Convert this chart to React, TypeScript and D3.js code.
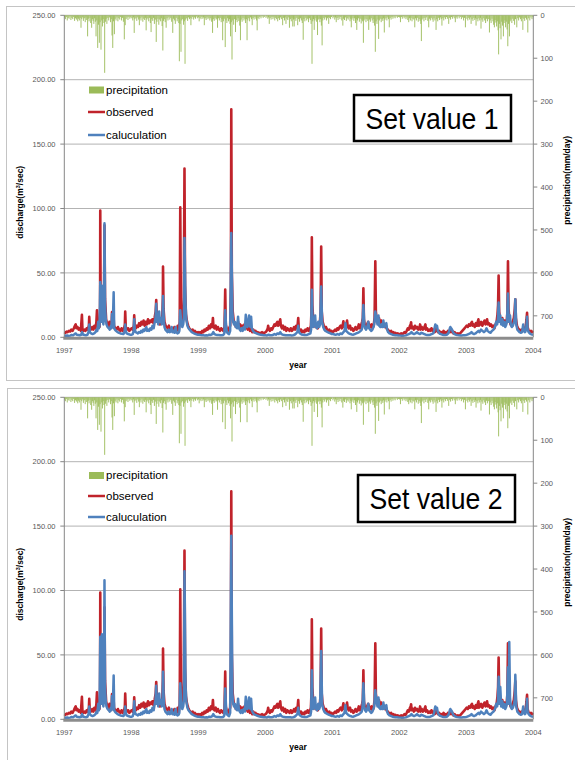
import React from 'react';
import * as d3 from 'd3';

// ---- data ----
const years = [1997, 1998, 1999, 2000, 2001, 2002, 2003];
const yearTicks = [1997, 1998, 1999, 2000, 2001, 2002, 2003, 2004];
const dischargeTicks = [0, 50, 100, 150, 200, 250];
const rainTicks = [0, 100, 200, 300, 400, 500, 600, 700];
const legendLabels = ['precipitation', 'observed', 'caluculation'];
const panelLabels = ['Set value 1', 'Set value 2'];

// observed discharge (m3/sec), [day of year, value]
const obs1997 = [[0,4],[6,3.5],[12,4.5],[18,4],[25,5],[32,4.5],[38,6],[45,5],[52,7],[58,9],[62,10],[66,7],[72,8],[78,6],[84,7],[90,5],[96,17.5],[99,6],[104,5],[110,6],[116,5],[122,7],[128,6],[134,9],[136,16],[139,7],[145,6],[152,8],[158,6],[164,9],[170,7],[175,12],[178,21],[181,9],[186,14],[192,8],[195,20],[196,98.5],[198,25],[203,14],[208,30],[212,18],[217,40],[219,87],[222,30],[228,14],[234,10],[240,8],[246,12],[252,7],[258,9],[260,19.6],[263,8],[268,18],[271,9],[278,7],[285,6],[292,8],[298,6],[305,5],[312,7],[318,5],[325,6],[330,10],[332,20],[335,8],[341,6],[348,7],[354,5],[360,6]];
const obs1998 = [[2,7],[8,6],[14,9],[16,17],[19,8],[25,7],[31,9],[37,8],[43,11],[49,9],[55,12],[61,10],[67,13],[73,9],[79,12],[85,10],[91,14],[97,11],[103,13],[109,12],[115,14],[121,11],[127,15],[133,20],[136,29],[139,17],[144,12],[150,15],[156,10],[162,13],[168,11],[172,30],[173,55],[176,22],[181,12],[187,9],[193,8],[199,7],[205,9],[211,6],[217,5],[223,7],[229,5],[235,8],[241,6],[247,5],[253,9],[259,6],[264,12],[267,101],[270,30],[275,15],[280,12],[286,25],[290,131],[293,40],[298,18],[304,12],[310,9],[316,7],[322,6],[328,5],[334,6],[340,4],[346,5],[352,4],[358,3.5],[364,4]];
const obs1999 = [[4,3],[10,4],[16,3],[22,5],[28,4],[34,6],[40,5],[46,7],[52,6],[58,9],[64,7],[70,10],[76,8],[80,15],[83,8],[89,7],[95,9],[101,6],[107,8],[113,6],[119,5],[125,7],[131,6],[137,5],[143,8],[147,37],[150,10],[156,6],[162,5],[168,7],[174,9],[178,40],[180,177],[183,50],[188,20],[194,12],[200,10],[206,8],[212,9],[217,12],[222,8],[228,10],[234,7],[240,9],[246,8],[252,10],[258,7],[264,9],[270,6],[276,8],[282,5],[288,7],[294,4],[300,6],[306,4],[312,5],[318,3.5],[324,4],[330,3],[336,3.5],[342,3],[348,4],[354,3],[360,3.5]];
const obs2000 = [[2,4],[8,5],[14,7],[16,9],[20,6],[26,5],[32,7],[38,6],[44,8],[50,10],[56,9],[62,11],[66,12],[70,9],[76,11],[82,14],[85,9],[91,7],[97,9],[103,6],[109,8],[115,5],[121,7],[127,6],[133,5],[139,7],[145,5],[151,6],[157,8],[163,6],[169,9],[175,7],[180,15],[183,7],[189,5],[195,6],[201,4],[207,5],[213,4],[219,6],[225,5],[231,7],[237,5],[243,6],[249,9],[252,20],[254,77.7],[257,25],[262,12],[268,10],[274,8],[280,9],[286,7],[292,10],[298,12],[302,20],[305,70.5],[308,20],[313,12],[319,9],[325,7],[331,8],[337,6],[343,5],[349,6],[355,4],[361,5]];
const obs2001 = [[3,4],[9,5],[15,6],[21,5],[27,7],[33,6],[39,8],[45,9],[51,7],[57,10],[60,12.5],[64,8],[70,9],[76,10],[80,13],[84,8],[90,7],[96,9],[102,6],[108,7],[114,5],[120,6],[126,8],[132,6],[138,7],[144,10],[150,7],[156,9],[162,12],[166,15],[169,38],[172,14],[177,9],[183,8],[189,10],[195,12],[201,9],[207,8],[213,10],[219,7],[225,9],[230,15],[234,59],[237,20],[242,14],[248,12],[254,15],[260,11],[266,13],[272,9],[278,11],[284,8],[290,10],[296,7],[302,6],[308,5],[314,4],[320,5],[326,3],[332,4],[338,3],[344,3.5],[350,2.5],[356,3],[362,2.5]];
const obs2002 = [[4,2.5],[10,3],[16,2.5],[22,3],[28,4],[34,3.5],[40,5],[46,7],[52,6],[58,9],[62,10],[64,11.7],[67,7],[73,8],[79,6],[85,9],[91,7],[97,8],[103,6],[109,7],[113,10],[116,6],[122,8],[128,6],[134,7],[142,10],[145,6],[151,7],[157,5],[163,6],[169,5],[175,7],[181,5],[187,6],[193,4],[199,7],[205,5],[211,4],[217,5],[223,3],[229,4],[235,3],[241,5],[247,3],[253,4],[259,3],[265,5],[271,4],[277,6],[283,4],[289,5],[295,3],[301,4],[307,3],[313,2.5],[319,3],[325,2.5],[331,3],[337,4],[343,5],[349,6],[355,7],[361,8]];
const obs2003 = [[2,9],[8,8],[14,10],[20,9],[26,11],[31,12],[34,9],[40,10],[46,8],[52,11],[58,9],[62,12],[66,14],[69,9],[75,10],[81,12],[87,9],[93,11],[99,13],[105,10],[110,12],[113,14],[117,10],[123,11],[129,9],[135,10],[141,8],[147,9],[153,7],[159,10],[165,12],[170,18],[173,25],[176,48],[179,20],[184,14],[190,12],[196,15],[202,11],[208,13],[214,10],[220,12],[224,20],[227,59],[230,22],[235,14],[241,10],[247,9],[253,12],[259,15],[264,22],[267,29.5],[270,15],[276,9],[282,7],[288,6],[294,5],[300,6],[306,5],[312,7],[318,6],[324,9],[328,14],[331,19],[334,8],[340,5],[346,4],[352,5],[358,4],[364,5]];

// calculated discharge, low flow common to both parameter sets, [day of year, value]
const calcLow1997 = [[0,1.5],[8,1.2],[16,1.4],[24,1.1],[32,1.3],[40,1.8],[48,1.5],[56,2.5],[62,3],[68,2],[76,1.8],[84,1.6],[92,2],[97,4],[102,2.2],[110,1.8],[118,1.6],[126,2],[132,4],[136,10],[139,4],[146,3],[154,2.5],[162,3],[170,4],[176,6],[180,5],[185,12],[188,7],[192,9],[199,15],[202,12],[209,14],[213,10],[216,16],[222,25],[226,14],[230,10],[236,8],[242,7],[248,6],[254,9],[257,7],[260,18],[264,8],[272,7],[276,6],[282,5],[290,4],[298,3.5],[306,3],[314,2.8],[322,2.5],[328,4],[332,10],[335,5],[340,3],[348,2.5],[356,2.2],[362,2]];
const calcLow1998 = [[2,2],[8,2.5],[13,5],[16,14],[19,6],[24,4],[30,3.5],[36,3],[42,4],[48,3.5],[54,5],[60,4],[66,6],[72,5],[78,7],[82,8],[86,5],[92,6],[98,5],[104,7],[110,6],[116,9],[122,7],[128,12],[132,15],[136,26],[139,12],[143,18],[147,10],[152,20],[156,12],[161,15],[166,10],[170,12],[177,14],[181,8],[186,6],[192,5],[198,4],[204,6],[210,4],[216,5],[220,8],[224,4],[230,5],[236,3.5],[242,8],[246,4],[252,3],[258,3.5],[262,5],[272,12],[278,8],[283,10],[287,15],[296,25],[300,14],[306,9],[312,7],[318,6],[324,5],[330,4],[336,3.5],[342,3],[350,2.5],[358,2.2],[364,2]];
const calcLow1999 = [[5,2],[12,1.8],[20,1.6],[28,1.5],[36,1.4],[44,1.5],[52,1.4],[60,2],[68,1.8],[76,2.5],[82,4],[88,2.5],[96,2],[104,1.8],[112,1.7],[120,1.6],[128,1.5],[136,1.8],[142,3],[152,8],[156,4],[162,3],[168,2.5],[174,5],[186,20],[190,12],[195,10],[200,12],[204,8],[208,10],[212,7],[217,16],[221,8],[226,6],[231,5],[236,7],[242,5],[248,8],[254,6],[259,17.5],[263,10],[268,8],[272,12],[277,17],[280,9],[285,8],[288,16],[292,7],[298,5],[304,4],[310,3.5],[318,3],[326,2.5],[334,2.2],[342,2],[350,1.8],[358,1.6]];
const calcLow2000 = [[2,1.5],[10,1.4],[18,2],[26,1.6],[34,1.5],[42,1.8],[50,2.5],[58,2],[66,3],[74,2.5],[82,4],[88,2.5],[96,2],[104,1.8],[112,1.6],[120,1.5],[128,1.6],[136,1.5],[144,1.4],[152,1.6],[160,2],[168,3],[175,4],[180,9],[184,4],[190,3],[198,2.2],[206,2],[214,1.8],[222,1.7],[230,2],[238,2.5],[246,3],[250,6],[258,12],[262,8],[266,10],[272,17],[276,8],[282,7],[289,12],[294,8],[299,10],[310,12],[316,8],[322,6],[328,5],[334,4.5],[340,4],[348,3.5],[356,3],[363,2.5]];
const calcLow2001 = [[4,2.5],[12,2.2],[20,2],[28,2.5],[36,2],[44,3],[52,2.5],[60,4],[66,5],[71,11],[75,5],[82,4],[90,3],[98,2.5],[106,2.2],[114,2],[122,2.5],[130,3],[138,3.5],[146,4],[154,5],[160,6],[164,9],[174,10],[178,7],[184,6],[190,8],[196,12],[200,7],[206,6],[212,5],[218,6],[224,8],[228,10],[240,14],[246,10],[251,17],[255,9],[262,8],[268,10],[273,8],[278,13],[282,8],[288,9],[294,11],[298,6],[304,4],[312,3],[320,2.5],[328,2],[336,1.8],[344,1.6],[352,1.5],[360,1.4]];
const calcLow2002 = [[4,1.3],[12,1.2],[20,1.2],[28,1.3],[36,1.5],[44,2],[52,2.5],[60,3],[66,4],[72,3],[80,2.5],[88,3],[96,4],[104,3],[112,2.5],[120,3.5],[128,3],[136,2.5],[144,2],[152,1.8],[160,1.7],[168,2],[176,2.5],[184,3],[190,5],[193,8],[196,10],[200,8],[205,9],[210,5],[218,3],[226,2.5],[234,2],[242,1.8],[250,1.7],[258,2],[266,3],[272,5],[275,7],[278,8],[282,7],[287,6],[292,4],[300,2.5],[308,2],[316,1.7],[324,1.5],[332,1.4],[340,1.4],[348,1.5],[356,1.6],[363,1.8]];
const calcLow2003 = [[4,2],[12,2.5],[20,3],[28,4],[34,3],[42,2.5],[50,3],[58,4],[66,5],[72,4],[80,6],[88,5],[96,4],[104,5],[110,7],[116,5],[124,4],[132,3.5],[140,5],[148,6],[156,8],[163,12],[168,10],[172,14],[180,12],[190,10],[196,14],[200,9],[206,12],[212,8],[218,10],[222,14],[231,12],[238,17],[242,10],[248,8],[254,9],[260,12],[264,15],[272,10],[278,6],[284,5],[290,4],[298,3.5],[304,4],[310,10],[314,5],[320,4],[326,6],[331,16],[334,6],[340,4],[346,3],[352,2.5],[358,2.2],[364,2]];

// calculated flood peaks per parameter set, [year, day of year, value]
const calcPeaksSet1 = [[1997,196,43],[1997,205,40],[1997,219,88.6],[1997,269,35],[1998,173,32],[1998,267,21],[1998,290,77],[1999,147,21],[1999,180,81],[2000,254,37],[2000,305,39.5],[2001,169,25],[2001,234,20],[2003,176,27],[2003,185,17],[2003,227,34],[2003,267,29.5]];
const calcPeaksSet2 = [[1997,196,64],[1997,205,66],[1997,219,108],[1997,269,34],[1998,173,37],[1998,267,28],[1998,290,115],[1999,147,24],[1999,180,142.6],[2000,254,38],[2000,305,53],[2001,169,28],[2001,234,22.5],[2003,176,33],[2003,185,25],[2003,227,40.5],[2003,234,60],[2003,267,34.6]];

// daily precipitation (mm/day), [day of year, value]
const rain1997 = [[2,5],[6,9],[11,4],[16,12],[21,6],[26,8],[31,3],[36,11],[41,6],[46,9],[51,4],[56,13],[61,7],[66,10],[70,5],[73,14],[77,8],[82,12],[87,6],[91,29],[95,9],[100,5],[104,13],[109,7],[114,16],[118,5],[122,11],[127,49],[131,8],[135,14],[140,6],[144,18],[149,29],[153,9],[157,13],[161,20],[165,7],[169,15],[173,49],[177,12],[182,76],[186,22],[191,64],[195,16],[200,80],[204,12],[208,26],[212,9],[216,18],[220,134],[224,15],[228,8],[232,20],[237,6],[242,12],[247,5],[252,16],[256,9],[260,47],[264,76],[268,14],[273,44],[277,8],[282,12],[287,5],[292,14],[297,7],[302,10],[307,4],[312,12],[317,6],[322,15],[327,56],[332,23],[337,9],[342,5],[347,11],[352,4],[357,8],[362,5]];
const rain1998 = [[3,7],[8,12],[12,5],[16,41],[20,9],[25,6],[30,13],[35,5],[40,10],[44,23],[48,7],[53,12],[58,5],[63,15],[68,8],[73,11],[77,6],[81,35],[85,10],[90,7],[95,14],[100,6],[104,18],[108,39],[112,9],[117,13],[121,6],[126,20],[131,10],[136,62],[140,15],[145,8],[150,22],[155,10],[160,14],[164,7],[168,25],[172,82],[176,13],[180,9],[185,16],[190,29],[195,7],[200,12],[205,5],[210,10],[215,6],[220,15],[226,41],[230,8],[235,12],[240,20],[245,6],[250,14],[255,9],[259,18],[262,107],[266,20],[271,85],[275,12],[280,9],[285,22],[289,14],[293,113],[297,10],[302,7],[307,13],[312,5],[317,9],[321,6],[325,23],[330,8],[335,4],[340,10],[345,5],[350,8],[355,3],[360,7]];
const rain1999 = [[1,5],[5,14],[10,6],[15,9],[20,4],[25,8],[29,5],[33,23],[38,7],[43,11],[48,5],[53,9],[58,6],[63,12],[68,7],[73,15],[78,41],[82,9],[87,13],[92,6],[97,10],[101,8],[105,29],[110,7],[115,12],[120,6],[125,16],[129,9],[133,58],[137,14],[142,8],[147,74],[151,12],[156,18],[160,7],[165,14],[170,9],[173,20],[176,49],[180,16],[184,103],[188,12],[193,22],[198,9],[203,39],[207,11],[212,16],[217,7],[221,13],[226,24],[230,58],[234,10],[239,15],[244,6],[249,12],[254,8],[258,18],[262,9],[266,58],[270,12],[275,7],[280,14],[285,5],[290,9],[294,23],[299,6],[304,10],[309,4],[314,8],[318,12],[321,35],[326,6],[331,9],[336,4],[342,7],[348,3],[354,6],[360,4]];
const rain2000 = [[4,6],[9,3],[14,8],[18,5],[22,20],[27,6],[32,10],[37,4],[42,9],[47,5],[52,12],[57,6],[62,9],[68,14],[73,7],[78,11],[83,5],[88,9],[95,23],[100,6],[105,12],[109,5],[113,20],[118,8],[123,11],[128,5],[132,29],[137,9],[142,14],[146,6],[150,26],[154,10],[158,26],[162,8],[167,13],[172,6],[177,23],[182,9],[187,15],[192,7],[197,12],[202,18],[207,57],[211,9],[216,14],[221,6],[226,12],[231,8],[236,16],[241,7],[246,11],[250,20],[255,113],[259,14],[263,9],[267,34],[271,12],[276,7],[280,15],[285,46],[289,10],[294,8],[298,16],[302,9],[306,24],[310,70],[314,12],[319,6],[324,10],[329,5],[334,12],[339,7],[343,4],[346,20],[351,6],[356,9],[361,4]];
const rain2001 = [[3,7],[8,4],[13,10],[17,5],[21,16],[26,6],[31,11],[36,5],[41,9],[46,4],[51,12],[57,24],[61,8],[66,11],[71,5],[76,13],[81,7],[86,10],[91,5],[96,14],[100,8],[103,28],[107,10],[112,6],[117,13],[121,7],[126,18],[130,9],[133,34],[137,12],[142,7],[147,15],[152,8],[157,19],[161,10],[165,14],[169,64],[173,12],[178,8],[183,16],[188,9],[193,13],[198,34],[202,10],[207,15],[212,7],[217,12],[222,18],[226,9],[230,24],[234,85],[238,14],[243,20],[248,10],[252,55],[256,12],[261,8],[266,16],[271,9],[275,13],[279,7],[283,40],[287,10],[292,6],[297,12],[302,5],[306,9],[310,28],[315,6],[320,10],[325,4],[330,8],[336,5],[342,7],[348,3],[354,6],[360,4]];
const rain2002 = [[1,5],[6,16],[11,4],[16,8],[21,3],[26,7],[31,4],[36,9],[41,5],[46,11],[51,16],[55,7],[60,12],[64,6],[69,14],[74,8],[79,10],[84,28],[88,7],[93,12],[98,6],[103,15],[108,9],[113,13],[117,20],[120,60],[124,10],[129,7],[134,14],[139,6],[144,11],[149,5],[155,13],[160,28],[164,8],[169,12],[174,6],[179,10],[184,15],[189,7],[194,12],[200,34],[204,9],[209,14],[214,6],[219,11],[224,5],[228,9],[232,24],[237,7],[242,12],[247,5],[252,9],[257,4],[262,8],[269,20],[274,6],[279,10],[284,4],[289,8],[294,3],[299,7],[305,16],[310,5],[315,8],[320,3],[326,7],[332,4],[338,9],[344,5],[350,12],[355,6],[360,28]];
const rain2003 = [[3,8],[8,12],[13,6],[18,10],[22,5],[26,20],[31,9],[36,13],[41,6],[46,11],[50,7],[53,24],[58,9],[63,14],[68,7],[73,12],[77,6],[80,31],[85,10],[90,15],[95,7],[100,12],[105,18],[110,8],[115,14],[120,9],[126,40],[130,12],[135,18],[140,8],[145,14],[149,22],[153,28],[157,11],[161,17],[165,26],[169,14],[173,35],[176,91],[180,20],[184,30],[189,56],[193,15],[197,24],[202,49],[206,18],[210,12],[214,28],[218,15],[222,33],[226,72],[230,20],[235,49],[239,14],[243,10],[248,18],[253,8],[258,13],[263,22],[268,9],[275,28],[280,7],[285,12],[290,5],[295,9],[300,14],[304,6],[308,34],[313,8],[318,13],[323,6],[328,10],[335,40],[340,7],[346,12],[352,5],[358,9],[363,4]];

const observedYears = [obs1997, obs1998, obs1999, obs2000, obs2001, obs2002, obs2003];
const calcLowYears = [calcLow1997, calcLow1998, calcLow1999, calcLow2000, calcLow2001, calcLow2002, calcLow2003];
const rainYears = [rain1997, rain1998, rain1999, rain2000, rain2001, rain2002, rain2003];

type Pt = { date: Date; v: number };

const toDate = (year: number, doy: number) => new Date(year, 0, 1 + doy);
const flatten = (byYear: number[][][]): Pt[] =>
  byYear.flatMap((arr, i) => arr.map(([d, v]) => ({ date: toDate(years[i], d), v })));
const withPeaks = (base: Pt[], peaks: number[][]): Pt[] =>
  base
    .concat(peaks.map(([y, d, v]) => ({ date: toDate(y, d), v })))
    .sort((a, b) => +a.date - +b.date);

const observed = flatten(observedYears);
const calcLow = flatten(calcLowYears);
const rain = flatten(rainYears);
const calcSets = [withPeaks(calcLow, calcPeaksSet1), withPeaks(calcLow, calcPeaksSet2)];

// ---- layout ----
const W = 575;
const H = 760;
const plotLeft = 64.3;
const plotRight = 533.3;
const plotH = 322;
const GREEN = '#9BBB59';
const RED = '#C0232B';
const BLUE = '#4F81BD';
const FONT = '"Liberation Sans", Arial, sans-serif';

const panels = [
  { frameY: 6.5, top: 15.3, legendY: [90, 112, 135], legendX: 88, box: [354, 95, 157, 46], boxText: [365.5, 129] },
  { frameY: 388.5, top: 397.3, legendY: [475.5, 496, 517], legendX: 88, box: [358, 475, 157, 47], boxText: [369.5, 508.5] },
];

const Panel = ({ idx }: { idx: number }) => {
  const p = panels[idx];
  const bottom = p.top + plotH;
  const x = d3.scaleTime().domain([new Date(1997, 0, 1), new Date(2004, 0, 1)]).range([plotLeft, plotRight]);
  const y = d3.scaleLinear().domain([0, 250]).range([bottom, p.top]);
  const yr = d3.scaleLinear().domain([0, 750]).range([p.top, bottom]);
  const line = d3
    .line<Pt>()
    .x((d) => x(d.date))
    .y((d) => y(d.v));

  return (
    <g>
      <rect x={idx === 0 ? 6.5 : 7.5} y={p.frameY} width={600} height={idx === 0 ? 374 : 420} fill="#fff" stroke="#c4c4c4" strokeWidth={1} />

      {/* gridlines */}
      {dischargeTicks.slice(1).map((t) => (
        <line key={t} x1={plotLeft} x2={plotRight} y1={y(t)} y2={y(t)} stroke="#b3b3b3" strokeWidth={1} />
      ))}

      {/* precipitation bars hanging from the top */}
      {rain.map((d, i) => (
        <rect key={i} x={x(d.date) - 0.5} y={p.top} width={1} height={yr(d.v) - p.top} fill={GREEN} fillOpacity={0.9} />
      ))}

      <path d={line(observed) || ''} fill="none" stroke={RED} strokeWidth={2.6} strokeLinejoin="round" />
      <path d={line(calcSets[idx]) || ''} fill="none" stroke={BLUE} strokeWidth={2.5} strokeLinejoin="round" />

      {/* axes */}
      <line x1={plotLeft} x2={plotLeft} y1={p.top} y2={bottom} stroke="#868686" />
      <line x1={plotRight} x2={plotRight} y1={p.top} y2={bottom} stroke="#868686" />
      <line x1={plotLeft - 1} x2={plotRight} y1={bottom + 1} y2={bottom + 1} stroke="#8c8c8c" strokeWidth={3} />

      {dischargeTicks.map((t) => (
        <g key={t}>
          <line x1={plotLeft - 4} x2={plotLeft} y1={y(t)} y2={y(t)} stroke="#868686" />
          <text x={55.5} y={y(t) + 2.7} textAnchor="end" fontSize={7.5} fill="#595959" fontFamily={FONT}>
            {t.toFixed(2)}
          </text>
        </g>
      ))}
      {rainTicks.map((t) => (
        <g key={t}>
          <line x1={plotRight} x2={plotRight + 4} y1={yr(t)} y2={yr(t)} stroke="#868686" />
          <text x={540.5} y={yr(t) + 2.7} fontSize={7.5} fill="#595959" fontFamily={FONT}>
            {t}
          </text>
        </g>
      ))}
      {yearTicks.map((t) => (
        <text key={t} x={x(new Date(t, 0, 1))} y={bottom + 16} textAnchor="middle" fontSize={7.5} fill="#595959" fontFamily={FONT}>
          {t}
        </text>
      ))}

      <text x={298} y={bottom + 31} textAnchor="middle" fontSize={8.5} fontWeight="bold" fontFamily={FONT}>
        year
      </text>
      <text transform={`translate(23,${p.top + 187}) rotate(-90)`} textAnchor="middle" fontSize={8.5} fontWeight="bold" fontFamily={FONT}>
        discharge(m<tspan fontSize={5.5} dy={-3}>3</tspan><tspan dy={3}>/sec)</tspan>
      </text>
      <text transform={`translate(569.5,${p.top + 165}) rotate(-90)`} textAnchor="middle" fontSize={8.5} fontWeight="bold" fontFamily={FONT}>
        precipitation(mm/day)
      </text>

      {/* legend */}
      <rect x={p.legendX + 1} y={p.legendY[0] - 3.5} width={15} height={7} fill={GREEN} />
      <line x1={p.legendX} x2={p.legendX + 17} y1={p.legendY[1]} y2={p.legendY[1]} stroke={RED} strokeWidth={2.5} />
      <line x1={p.legendX} x2={p.legendX + 17} y1={p.legendY[2]} y2={p.legendY[2]} stroke={BLUE} strokeWidth={2.5} />
      {legendLabels.map((l, i) => (
        <text key={l} x={p.legendX + 18} y={p.legendY[i] + 3.8} fontSize={11.5} fill="#000" fontFamily={FONT}>
          {l}
        </text>
      ))}

      {/* label box */}
      <rect x={p.box[0]} y={p.box[1]} width={p.box[2]} height={p.box[3]} fill="#fff" stroke="#000" strokeWidth={2.5} />
      <text x={p.boxText[0]} y={p.boxText[1]} fontSize={29} fontFamily={FONT} textLength={133} lengthAdjust="spacingAndGlyphs">
        {panelLabels[idx]}
      </text>
    </g>
  );
};

export default function App() {
  return (
    <svg width={W} height={H} style={{ position: 'absolute', left: 0, top: 0, background: '#fff' }}>
      <rect width={W} height={H} fill="#fff" />
      <Panel idx={0} />
      <Panel idx={1} />
    </svg>
  );
}
